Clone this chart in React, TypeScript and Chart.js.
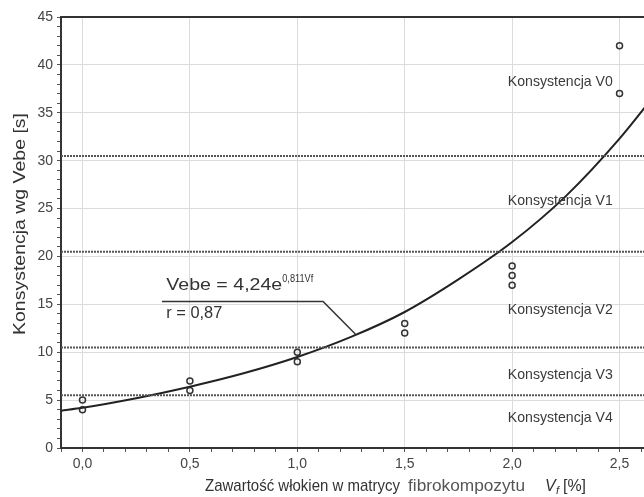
import React, { useEffect, useRef } from 'react';
import { Chart, registerables } from 'chart.js';

Chart.register(...registerables);

// ---- data ----
const pointX = [0, 0, 0.5, 0.5, 1, 1, 1.5, 1.5, 2, 2, 2, 2.5, 2.5];
const pointY = [5, 4, 7, 6, 10, 9, 13, 12, 19, 18, 17, 42, 37];

const curveX = [-0.1, 0, 0.25, 0.5, 0.75, 1, 1.25, 1.5, 1.75, 2, 2.25, 2.5, 2.7];
const curveY = [3.9, 4.2, 5.2, 6.4, 7.8, 9.5, 11.6, 14.2, 17.6, 21.5, 26.3, 32.3, 37.9];

const bandLimits = [5.5, 10.5, 20.5, 30.5];
const bandNames = ['Konsystencja V0', 'Konsystencja V1', 'Konsystencja V2', 'Konsystencja V3', 'Konsystencja V4'];
const bandLabelY = [38.2, 25.8, 14.4, 7.6, 3.1];
const bandLabelX = 1.98;

const leaderX = [0.37, 1.12, 1.27];
const leaderY = [15.3, 15.3, 11.9];

const equationMain = 'Vebe = 4,24e';
const equationExp = '0,811Vf';
const equationR = 'r = 0,87';
const equationX = 0.39;
const equationY = 17.0;
const equationRY = 14.1;

const yTitle = 'Konsystencja wg Vebe [s]';
const xTitleParts = ['Zawartość włokien w matrycy', 'fibrokompozytu', 'V', 'f', '[%]'];

const X_MIN = -0.1;
const X_MAX = 2.7;
const Y_MIN = 0;
const Y_MAX = 45;
const X_MAJOR_TICKS = [0, 0.5, 1, 1.5, 2, 2.5];

const FONT = '"Liberation Sans", Arial, sans-serif';
const NARROW = '"Liberation Sans Narrow", "Liberation Sans", Arial, sans-serif';

function fitText(ctx: CanvasRenderingContext2D, text: string, x: number, y: number, font: string, width?: number) {
  ctx.save();
  ctx.font = font;
  const m = ctx.measureText(text).width;
  ctx.translate(x, y);
  if (width && m > 0) ctx.scale(width / m, 1);
  ctx.fillText(text, 0, 0);
  ctx.restore();
}

const textPlugin = {
  id: 'textPlugin',
  beforeDatasetsDraw(chart: any) {
    const { ctx, chartArea } = chart;
    ctx.save();
    ctx.strokeStyle = '#333';
    ctx.lineWidth = 2;
    ctx.beginPath();
    ctx.moveTo(chartArea.left, chartArea.top);
    ctx.lineTo(chartArea.right, chartArea.top);
    ctx.stroke();
    ctx.restore();
  },
  afterDatasetsDraw(chart: any) {
    const { ctx } = chart;
    const xs = chart.scales.x;
    const ys = chart.scales.y;
    ctx.save();
    ctx.textAlign = 'left';
    ctx.textBaseline = 'middle';
    ctx.fillStyle = '#3a3a3a';
    bandNames.forEach((name, i) => {
      fitText(ctx, name, xs.getPixelForValue(bandLabelX), ys.getPixelForValue(bandLabelY[i]), `15px ${FONT}`, 105);
    });
    // equation
    ctx.fillStyle = '#333';
    const ex = xs.getPixelForValue(equationX);
    const ey = ys.getPixelForValue(equationY);
    fitText(ctx, equationMain, ex, ey, `17px ${FONT}`, 116);
    fitText(ctx, equationExp, ex + 116, ey - 6, `10px ${FONT}`, 31);
    fitText(ctx, equationR, ex, ys.getPixelForValue(equationRY), `17px ${FONT}`, 56);

    // axis titles
    ctx.textBaseline = 'alphabetic';
    ctx.fillStyle = '#333';
    fitText(ctx, xTitleParts[0], 205, 491, `17px ${NARROW}`, 195);
    ctx.fillStyle = '#555';
    fitText(ctx, xTitleParts[1], 408, 491, `16px ${FONT}`, 117);
    ctx.fillStyle = '#333';
    fitText(ctx, xTitleParts[2], 545, 491, `italic 16px ${FONT}`);
    fitText(ctx, xTitleParts[3], 556, 494, `italic 11px ${FONT}`);
    fitText(ctx, xTitleParts[4], 563, 491, `16px ${FONT}`, 23);

    ctx.save();
    ctx.translate(20, 224);
    ctx.rotate(-Math.PI / 2);
    ctx.textAlign = 'center';
    ctx.textBaseline = 'middle';
    ctx.fillStyle = '#333';
    ctx.font = `17px ${FONT}`;
    const m = ctx.measureText(yTitle).width;
    ctx.scale(222 / m, 1);
    ctx.fillText(yTitle, 0, 0);
    ctx.restore();
    ctx.restore();
  },
};

export default function App() {
  const ref = useRef<HTMLCanvasElement | null>(null);
  useEffect(() => {
    if (!ref.current) return;
    const bandSets = bandLimits.map((b) => ({
      type: 'scatter' as const,
      data: [{ x: X_MIN, y: b }, { x: X_MAX, y: b }],
      showLine: true,
      borderColor: '#555',
      borderWidth: 2,
      borderDash: [2, 1],
      pointRadius: 0,
    }));
    const chart = new Chart(ref.current, {
      type: 'scatter',
      data: {
        datasets: [
          ...bandSets,
          {
            data: curveX.map((x, i) => ({ x, y: curveY[i] })),
            showLine: true,
            borderColor: '#222',
            borderWidth: 2,
            pointRadius: 0,
            cubicInterpolationMode: 'monotone',
          } as any,
          {
            data: leaderX.map((x, i) => ({ x, y: leaderY[i] })),
            showLine: true,
            borderColor: '#333',
            borderWidth: 1.5,
            pointRadius: 0,
            tension: 0,
          },
          {
            data: pointX.map((x, i) => ({ x, y: pointY[i] })),
            showLine: false,
            pointRadius: 3,
            pointBorderWidth: 1.5,
            pointBorderColor: '#333',
            pointBackgroundColor: 'rgba(255,255,255,0)',
          },
        ],
      },
      options: {
        animation: false,
        responsive: false,
        layout: { padding: { top: 17, left: 0, right: 1, bottom: 0 } },
        plugins: { legend: { display: false }, tooltip: { enabled: false } },
        scales: {
          x: {
            type: 'linear',
            min: X_MIN,
            max: X_MAX,
            afterFit: (s: any) => { s.height = 49; },
            ticks: {
              stepSize: 0.1,
              autoSkip: false,
              maxRotation: 0,
              padding: 4,
              color: '#444',
              font: { family: FONT, size: 14 },
              callback: (v: any) => {
                const t = Math.round(Number(v) * 10);
                return X_MAJOR_TICKS.some((m) => Math.round(m * 10) === t) ? (t / 10).toFixed(1).replace('.', ',') : '';
              },
            },
            grid: {
              color: (c: any) => {
                const t = Math.round(Number(c.tick?.value) * 10);
                return X_MAJOR_TICKS.some((m) => Math.round(m * 10) === t) ? '#dcdcdc' : 'rgba(0,0,0,0)';
              },
              tickColor: '#555',
              tickLength: 4,
              lineWidth: 1,
            },
            border: { color: '#333', width: 2 },
          },
          y: {
            type: 'linear',
            min: Y_MIN,
            max: Y_MAX,
            afterFit: (s: any) => { s.width = 61; },
            ticks: {
              stepSize: 1,
              autoSkip: false,
              padding: 4,
              color: '#444',
              font: { family: FONT, size: 14 },
              callback: (v: any) => (Math.round(Number(v)) % 5 === 0 ? String(Math.round(Number(v))) : ''),
            },
            grid: {
              color: (c: any) => (Math.round(Number(c.tick?.value)) % 5 === 0 ? '#dcdcdc' : 'rgba(0,0,0,0)'),
              tickColor: '#555',
              tickLength: 4,
              lineWidth: 1,
            },
            border: { color: '#333', width: 2 },
          },
        },
      },
      plugins: [textPlugin],
    });
    return () => chart.destroy();
  }, []);
  return (
    <div style={{ position: 'fixed', left: 0, top: 0, width: 668, height: 497, background: '#fff' }}>
      <canvas ref={ref} width={668} height={497} style={{ width: 668, height: 497 }} />
    </div>
  );
}
